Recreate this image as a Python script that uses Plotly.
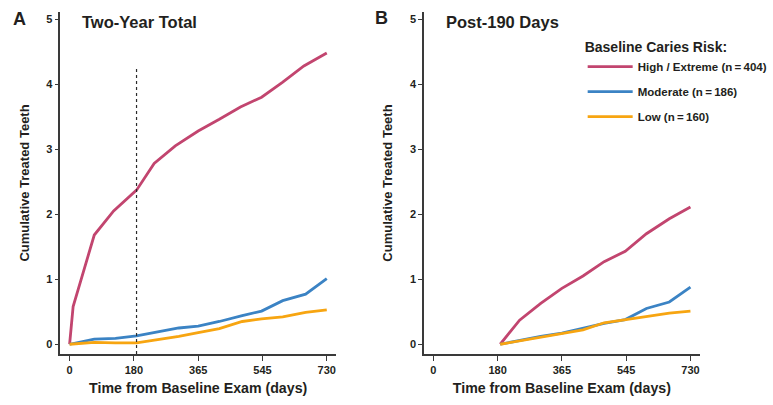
import plotly.graph_objects as go

# ---- data ----
days_a_high = [0, 10, 70, 125, 190, 240, 300, 365, 425, 485, 545, 605, 665, 730]
high_a = [0, 0.58, 1.68, 2.05, 2.37, 2.78, 3.05, 3.28, 3.46, 3.65, 3.80, 4.03, 4.28, 4.48]

days_a = [0, 70, 130, 190, 250, 310, 365, 425, 490, 545, 605, 670, 730]
moderate_a = [0, 0.08, 0.09, 0.13, 0.19, 0.25, 0.28, 0.35, 0.44, 0.51, 0.67, 0.77, 1.01]
low_a = [0, 0.03, 0.02, 0.02, 0.07, 0.12, 0.18, 0.24, 0.35, 0.39, 0.42, 0.49, 0.53]

days_b = [190, 245, 305, 365, 425, 485, 545, 605, 670, 730]
high_b = [0, 0.37, 0.63, 0.86, 1.05, 1.27, 1.43, 1.70, 1.93, 2.11]
moderate_b = [0, 0.06, 0.12, 0.17, 0.25, 0.32, 0.38, 0.55, 0.65, 0.88]
low_b = [0, 0.05, 0.10, 0.16, 0.22, 0.33, 0.38, 0.42, 0.48, 0.51]

tick_vals = [0, 182.5, 365, 547.5, 730]
tick_text = ["0", "180", "365", "545", "730"]
y_ticks = [0, 1, 2, 3, 4, 5]

series_names = ["High / Extreme (n\u2009=\u2009404)", "Moderate (n\u2009=\u2009186)", "Low (n\u2009=\u2009160)"]
colors = ["#C2456F", "#3B83C4", "#F7A511"]
cutoff_day = 190

FONT = "Liberation Sans, Arial, sans-serif"
INK = "#231F20"

W, H = 773, 405


def px(x):
    return x / W


def py(y):
    return 1 - y / H


fig = go.Figure()

LW = 2.8
# Panel A
fig.add_trace(go.Scatter(x=days_a_high, y=high_a, mode="lines", name=series_names[0],
                         line=dict(color=colors[0], width=LW), legendgroup="g1",
                         showlegend=True, xaxis="x", yaxis="y"))
fig.add_trace(go.Scatter(x=days_a, y=moderate_a, mode="lines", name=series_names[1],
                         line=dict(color=colors[1], width=LW), legendgroup="g2",
                         showlegend=True, xaxis="x", yaxis="y"))
fig.add_trace(go.Scatter(x=days_a, y=low_a, mode="lines", name=series_names[2],
                         line=dict(color=colors[2], width=LW), legendgroup="g3",
                         showlegend=True, xaxis="x", yaxis="y"))
# Panel B
fig.add_trace(go.Scatter(x=days_b, y=high_b, mode="lines", name=series_names[0],
                         line=dict(color=colors[0], width=LW), legendgroup="g1",
                         showlegend=False, xaxis="x2", yaxis="y2"))
fig.add_trace(go.Scatter(x=days_b, y=moderate_b, mode="lines", name=series_names[1],
                         line=dict(color=colors[1], width=LW), legendgroup="g2",
                         showlegend=False, xaxis="x2", yaxis="y2"))
fig.add_trace(go.Scatter(x=days_b, y=low_b, mode="lines", name=series_names[2],
                         line=dict(color=colors[2], width=LW), legendgroup="g3",
                         showlegend=False, xaxis="x2", yaxis="y2"))

# dashed cutoff line in panel A
fig.add_shape(type="line", xref="x", yref="y", x0=cutoff_day, x1=cutoff_day,
              y0=-0.15, y1=4.25, line=dict(color="#2a2a2a", width=1.2, dash="dot"))

tickfont = dict(family=FONT, size=11, color=INK, weight="bold")
xcommon = dict(tickvals=tick_vals, ticktext=tick_text, range=[-26, 756],
               showline=True, linecolor="#3a3a3a", linewidth=1.6, ticks="outside",
               ticklen=5, tickwidth=1.4, tickcolor="#3a3a3a", showgrid=False,
               zeroline=False, automargin=False, tickfont=tickfont,
               title=dict(text="<b>Time from Baseline Exam (days)</b>",
                          font=dict(family=FONT, size=14.2, color=INK), standoff=8))
ycommon = dict(tickvals=y_ticks, range=[-0.15, 5.11],
               showline=True, linecolor="#3a3a3a", linewidth=1.6, ticks="outside",
               ticklen=4, tickwidth=1.4, tickcolor="#3a3a3a", showgrid=False,
               zeroline=False, automargin=False, tickfont=tickfont,
               title=dict(text="<b>Cumulative Treated Teeth</b>",
                          font=dict(family=FONT, size=13, color=INK), standoff=14))

fig.update_layout(
    width=W, height=H,
    margin=dict(l=0, r=0, t=0, b=0),
    paper_bgcolor="white", plot_bgcolor="white",
    font=dict(family=FONT, color=INK),
    xaxis=dict(domain=[px(61), px(339)], anchor="y", **xcommon),
    yaxis=dict(domain=[py(354), py(12)], anchor="x", **ycommon),
    xaxis2=dict(domain=[px(428), px(706)], anchor="y2", **xcommon),
    yaxis2=dict(domain=[py(354), py(12)], anchor="x2", **ycommon),
    showlegend=True,
    legend=dict(
        title=dict(text="<b>Baseline Caries Risk:</b>", font=dict(family=FONT, size=14, color=INK)),
        font=dict(family=FONT, size=11.5, color=INK, weight="bold"),
        x=px(588), y=py(34), xanchor="left", yanchor="top",
        bgcolor="rgba(0,0,0,0)", borderwidth=0, tracegroupgap=6,
        itemwidth=45,
    ),
)

ann_font = dict(family=FONT, color=INK)
fig.add_annotation(text="<b>A</b>", xref="paper", yref="paper", x=px(11), y=py(19),
                   xanchor="left", yanchor="middle", showarrow=False, font=dict(size=18, **ann_font))
fig.add_annotation(text="<b>B</b>", xref="paper", yref="paper", x=px(376), y=py(18),
                   xanchor="left", yanchor="middle", showarrow=False, font=dict(size=18, **ann_font))
fig.add_annotation(text="<b>Two-Year Total</b>", xref="paper", yref="paper", x=px(81), y=py(22),
                   xanchor="left", yanchor="middle", showarrow=False, font=dict(size=16.5, **ann_font))
fig.add_annotation(text="<b>Post-190 Days</b>", xref="paper", yref="paper", x=px(448), y=py(22),
                   xanchor="left", yanchor="middle", showarrow=False, font=dict(size=16.5, **ann_font))

fig.write_html(
    "out.html",
    config={"displayModeBar": False},
    post_script="document.body.style.margin='0';document.body.style.overflow='hidden';",
)
